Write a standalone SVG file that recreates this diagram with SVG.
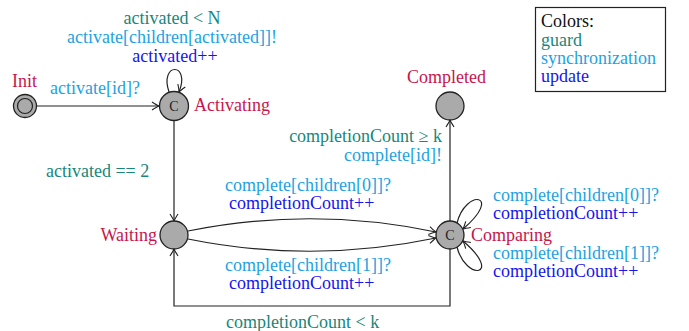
<svg xmlns="http://www.w3.org/2000/svg" width="689" height="331" viewBox="0 0 689 331">
  <style>
    text { font-family: "Liberation Serif", "Times New Roman", serif; font-size: 18px; }
    .name { fill: #c8154c; }
    .guard { fill: #17877c; }
    .sync { fill: #1ca3e2; }
    .upd { fill: #1515f0; }
    .loc { fill: #aaaaaa; stroke: #222; stroke-width: 1.3; }
    .edge { fill: none; stroke: #222; stroke-width: 1.2; marker-end: url(#arr); }
    .c { fill: #222; font-size: 14px; text-anchor: middle; }
  </style>
  <defs>
    <marker id="arr" viewBox="-10 -6 12 12" markerWidth="12" markerHeight="12" refX="0" refY="0" orient="auto" markerUnits="userSpaceOnUse">
      <path d="M-7,-4 Q-2,-0.8 0,0 Q-2,0.8 -7,4" fill="none" stroke="#222" stroke-width="1.1"/>
    </marker>
  </defs>

  <!-- legend -->
  <g id="legend">
    <rect x="535.5" y="7.5" width="130" height="84" fill="#fff" stroke="#222" stroke-width="1.2"/>
    <text x="541" y="27" fill="#111">Colors:</text>
    <text x="541" y="46" class="guard">guard</text>
    <text x="541" y="64" class="sync">synchronization</text>
    <text x="541" y="82" class="upd">update</text>
  </g>

  <!-- transitions -->
  <g id="edges">
    <path class="edge" d="M37,106 L159,106"/>
    <path class="edge" d="M169,92 C159,62 191,62 179,92"/>
    <path class="edge" d="M174,121 L174,221"/>
    <path class="edge" d="M188,231 Q312,206 436,232"/>
    <path class="edge" d="M188,239 Q312,264 436,238"/>
    <path class="edge" d="M450,221 L450,120"/>
    <path class="edge" d="M450,249 L450,306 L174,306 L174,249"/>
    <!-- Comparing self-loops, lobes at 45 degrees -->
    <path class="edge" d="M457,223 C466,188 504,194 463,229"/>
    <path class="edge" d="M457,247 C466,282 504,276 463,241"/>
  </g>

  <!-- transition labels -->
  <g id="labels">
    <text x="172" y="24" class="guard" text-anchor="middle">activated &lt; N</text>
    <text x="172" y="43" class="sync" text-anchor="middle">activate[children[activated]]!</text>
    <text x="175" y="62" class="upd" text-anchor="middle">activated++</text>
    <text x="50" y="94" class="sync">activate[id]?</text>
    <text x="46" y="177" class="guard">activated == 2</text>
    <text x="442" y="142" class="guard" text-anchor="end">completionCount ≥ k</text>
    <text x="442" y="161" class="sync" text-anchor="end">complete[id]!</text>
    <text x="225" y="191" class="sync">complete[children[0]]?</text>
    <text x="229" y="209" class="upd">completionCount++</text>
    <text x="225" y="271" class="sync">complete[children[1]]?</text>
    <text x="229" y="289" class="upd">completionCount++</text>
    <text x="226" y="328" class="guard">completionCount &lt; k</text>
    <text x="493" y="201" class="sync">complete[children[0]]?</text>
    <text x="493" y="219" class="upd">completionCount++</text>
    <text x="493" y="259" class="sync">complete[children[1]]?</text>
    <text x="493" y="277" class="upd">completionCount++</text>
  </g>

  <!-- locations -->
  <g id="init">
    <circle class="loc" cx="25" cy="106" r="11.5"/>
    <circle cx="25" cy="106" r="7.5" fill="none" stroke="#222" stroke-width="1.2"/>
    <text x="12" y="87" class="name">Init</text>
  </g>
  <g id="activating">
    <circle class="loc" cx="174" cy="106" r="14.5"/>
    <text x="174" y="111" class="c">C</text>
    <text x="194" y="111" class="name">Activating</text>
  </g>
  <g id="waiting">
    <circle class="loc" cx="174" cy="235" r="14"/>
    <text x="157" y="241" class="name" text-anchor="end">Waiting</text>
  </g>
  <g id="comparing">
    <circle class="loc" cx="450" cy="235" r="14"/>
    <text x="450" y="240" class="c">C</text>
    <text x="471" y="241" class="name">Comparing</text>
  </g>
  <g id="completed">
    <circle class="loc" cx="450" cy="106" r="14"/>
    <text x="407" y="83" class="name">Completed</text>
  </g>
</svg>
